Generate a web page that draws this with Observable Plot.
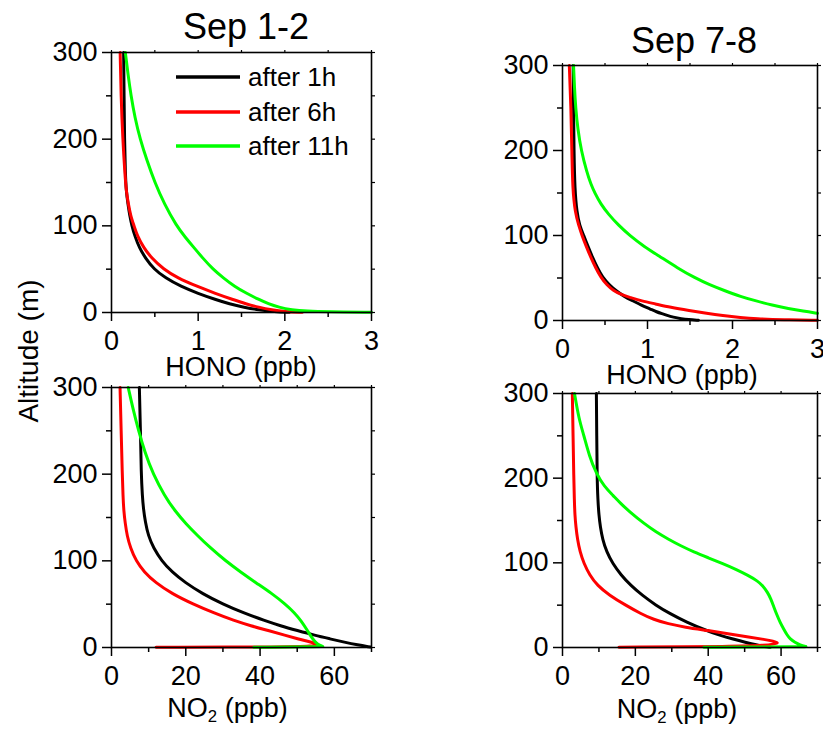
<!DOCTYPE html>
<html>
<head>
<meta charset="utf-8">
<script src="https://cdn.jsdelivr.net/npm/d3@7"></script>
<script src="https://cdn.jsdelivr.net/npm/@observablehq/plot@0.6"></script>
<style>
  html, body { margin: 0; padding: 0; background: #fff; }
  #root { position: relative; width: 823px; height: 729px; overflow: hidden; font-family: "Liberation Sans", Arial, sans-serif; color: #000; }
  .abs { position: absolute; white-space: nowrap; }
  .ctr { transform: translateX(-50%); }
  .legrow { position: absolute; left: 0; height: 34px; display: flex; align-items: center; font-size: 26px; line-height: 34px; white-space: nowrap; }
  .legrow svg { margin-right: 8px; flex: none; }
  sub { font-size: 0.62em; vertical-align: -0.3em; line-height: 0; }
</style>
</head>
<body>
<div id="root"></div>
<script>
// ---------------- data: [value, altitude (m)] ----------------
const seriesNames = ["after 1h", "after 6h", "after 11h"];
const seriesColors = ["#000000", "#ff0000", "#00ff00"];
const panelTitles = ["Sep 1-2", "Sep 7-8"];
const honoTicks = [0, 1, 2, 3];
const honoMinor = [0.5, 1.5, 2.5];
const no2Ticks = [0, 20, 40, 60];
const no2Minor = [10, 30, 50, 70];
const altTicks = [0, 100, 200, 300];
const altMinor = [50, 150, 250];

// HONO (ppb), Sep 1-2
const hono12_1h = [[0.14,300],[0.145,250],[0.15,200],[0.16,160],[0.17,140],[0.19,125],[0.21,112],[0.235,100],[0.27,88],[0.32,75],[0.39,63],[0.49,50],[0.62,40],[0.80,30],[1.00,22],[1.20,15],[1.36,10],[1.53,6],[1.70,3],[1.88,1],[2.05,0.2]];
const hono12_6h = [[0.10,300],[0.11,250],[0.13,200],[0.155,160],[0.17,140],[0.195,125],[0.22,112],[0.26,100],[0.30,88],[0.37,75],[0.46,63],[0.60,50],[0.76,40],[0.99,30],[1.20,22],[1.40,15],[1.55,10],[1.70,6],[1.85,3],[2.0,1],[2.2,0.2]];
const hono12_11h = [[0.16,300],[0.19,275],[0.225,250],[0.27,225],[0.33,200],[0.41,175],[0.50,150],[0.61,125],[0.75,100],[0.85,87],[0.95,75],[1.06,62],[1.17,50],[1.29,40],[1.42,30],[1.56,22],[1.70,15],[1.81,10],[1.93,6],[2.08,3],[2.25,1.5],[2.5,0.8],[3.0,0.3]];

// HONO (ppb), Sep 7-8
const hono78_1h = [[0.125,300],[0.13,250],[0.135,200],[0.145,153],[0.17,127],[0.20,112],[0.25,100],[0.30,87],[0.35,75],[0.41,62],[0.47,51],[0.55,42],[0.63,35],[0.73,28],[0.82,23.5],[0.93,18],[1.03,13.7],[1.11,10],[1.17,8],[1.23,6],[1.30,4],[1.40,2],[1.48,1],[1.6,0.3]];
const hono78_6h = [[0.08,300],[0.10,250],[0.11,200],[0.12,153],[0.15,127],[0.19,112],[0.23,100],[0.28,87],[0.33,75],[0.39,62],[0.45,51],[0.52,42],[0.60,35],[0.70,30],[0.80,27],[0.93,23],[1.09,19.6],[1.27,15.5],[1.49,11.8],[1.70,8.5],[1.88,6],[2.1,3.5],[2.27,2],[2.6,0.8],[3.0,0.3]];
const hono78_11h = [[0.13,300],[0.14,275],[0.155,250],[0.18,225],[0.22,200],[0.285,175],[0.335,160],[0.38,150],[0.45,137],[0.54,125],[0.66,112],[0.79,100],[0.96,87],[1.15,75],[1.35,62],[1.56,50],[1.73,42],[1.91,35],[2.10,28],[2.26,23.5],[2.47,18],[2.66,14],[2.83,11],[3.0,8.5]];

// NO2 (ppb), Sep 1-2
const no2_12_1h = [[7.5,300],[7.8,250],[8.0,200],[8.3,175],[8.6,160],[9.1,145],[9.9,129],[11.3,115],[13.5,100],[16.3,87],[19.8,75],[24.5,62],[30.0,50],[35.5,40],[41.2,31],[45.5,25],[50.0,19.6],[54.8,14],[58.8,10],[62.8,6],[66.2,3],[69.7,0.5]];
const no2_12_6h = [[2.3,300],[2.6,250],[2.9,200],[3.1,175],[3.3,158],[3.7,143],[4.2,129],[5.1,115],[6.6,100],[8.8,87],[11.8,75],[16.3,62],[22.0,50],[27.5,40],[33.0,31],[37.5,25],[42.2,19.6],[46.8,14],[50.2,10],[53.0,7],[54.6,5],[55.4,3],[55.4,3],[54.0,1.5],[48.0,0.6],[12.0,0.3]];
const no2_12_11h = [[4.5,300],[5.8,275],[7.3,250],[9.0,225],[11.2,200],[14.3,175],[17.0,158],[20.0,143],[23.2,129],[26.6,115],[30.7,100],[34.8,87],[38.8,75],[43.3,62],[46.8,50],[49.3,40],[51.0,31],[52.7,20],[54.1,10],[55.2,5],[56.0,2.5],[57.0,1],[57.0,1],[38.3,0.3]];

// NO2 (ppb), Sep 7-8
const no2_78_1h = [[9.3,300],[9.4,250],[9.5,200],[9.7,175],[10.0,156],[10.4,142],[11.0,128],[12.1,113],[13.8,99],[16.0,86],[18.8,73],[21.8,62],[25.6,50],[29.5,40],[34.0,30],[39.5,20],[43.5,14],[46.8,10],[50.2,6],[53.3,3],[55.5,1],[57.0,0.3]];
const no2_78_6h = [[2.7,300],[2.9,250],[3.1,200],[3.25,175],[3.4,156],[3.7,142],[4.1,128],[4.8,113],[5.9,99],[7.4,86],[9.6,73],[12.8,62],[17.3,50],[21.5,40],[25.0,33],[29.0,28],[33.5,24],[40.0,20],[46.0,16],[51.2,12.2],[55.5,9.5],[58.0,7.5],[59.0,5.5],[59.0,5.5],[58.0,4],[55.5,2.5],[48.0,1.2],[15.5,0.3]];
const no2_78_11h = [[3.3,300],[4.5,270],[5.9,250],[7.3,227],[9.3,205],[11.5,190],[13.8,180],[16.0,170],[18.5,160],[22.5,146],[25.5,137],[29.0,128],[32.5,120],[36.0,113],[40.0,106],[44.0,99],[47.8,92],[51.0,85],[53.4,79],[55.0,73],[56.3,65],[57.2,57.5],[58.0,48],[58.9,38],[59.7,30],[60.7,22],[61.6,15],[62.5,10],[63.8,6],[65.2,3],[67.0,1],[67.0,1],[38.8,0.3]];

// ---------------- drawing ----------------
const FONT = '"Liberation Sans", Arial, sans-serif';
const root = document.getElementById("root");

function panel(cfg) {
  const {series, xDomain, xMajor, xMinor, left, top, width, height, mt, mr, mb, ml} = cfg;
  const allX = [...xMajor, ...xMinor];
  const allY = [...altTicks, ...altMinor];
  const lines = series.map((arr, i) => Plot.line(arr, {
    x: d => d[0], y: d => d[1], stroke: seriesColors[i], strokeWidth: 3,
    curve: "basis", strokeLinejoin: "round"
  }));
  const svg = Plot.plot({
    width, height,
    marginTop: mt, marginRight: mr, marginBottom: mb, marginLeft: ml,
    x: {domain: xDomain},
    y: {domain: [0, 300]},
    style: {fontSize: "27px", fontFamily: FONT, background: "transparent", overflow: "visible", color: "#000"},
    marks: [
      ...lines,
      Plot.frame({stroke: "#000", strokeWidth: 1.6}),
      Plot.axisX({ticks: xMajor, tickSize: 9, tickPadding: 9, tickFormat: d => String(d), label: null, strokeWidth: 1.5}),
      Plot.axisX({ticks: xMinor, tickSize: 5, tickFormat: () => "", label: null, strokeWidth: 1.5}),
      Plot.axisX({anchor: "top", ticks: allX, tickSize: 3, tickFormat: () => "", label: null, strokeWidth: 1.2}),
      Plot.axisY({ticks: altTicks, tickSize: 9, tickPadding: 5, tickFormat: d => String(d), label: null, strokeWidth: 1.5}),
      Plot.axisY({ticks: altMinor, tickSize: 5, tickFormat: () => "", label: null, strokeWidth: 1.5}),
      Plot.axisY({anchor: "right", ticks: allY, tickSize: 3, tickFormat: () => "", label: null, strokeWidth: 1.2})
    ]
  });
  svg.style.position = "absolute";
  svg.style.left = left + "px";
  svg.style.top = top + "px";
  svg.style.maxWidth = "none";
  root.appendChild(svg);
}

// top-left: HONO Sep 1-2
panel({series: [hono12_1h, hono12_6h, hono12_11h], xDomain: [0, 3], xMajor: honoTicks, xMinor: honoMinor,
  left: 0, top: 0, width: 379, height: 385, mt: 52, mr: 8, mb: 73, ml: 111});
// top-right: HONO Sep 7-8
panel({series: [hono78_1h, hono78_6h, hono78_11h], xDomain: [0, 3], xMajor: honoTicks, xMinor: honoMinor,
  left: 379, top: 0, width: 444, height: 389, mt: 65, mr: 6, mb: 69, ml: 183});
// bottom-left: NO2 Sep 1-2
panel({series: [no2_12_1h, no2_12_6h, no2_12_11h], xDomain: [0, 70], xMajor: no2Ticks, xMinor: no2Minor,
  left: 0, top: 385, width: 379, height: 344, mt: 2, mr: 8, mb: 82, ml: 111});
// bottom-right: NO2 Sep 7-8
panel({series: [no2_78_1h, no2_78_6h, no2_78_11h], xDomain: [0, 70], xMajor: no2Ticks, xMinor: no2Minor,
  left: 379, top: 389, width: 444, height: 340, mt: 4, mr: 6, mb: 82, ml: 183});

// ---------------- text ----------------
function addText(html, x, baseline, size) {
  const d = document.createElement("div");
  d.className = "abs ctr";
  d.style.fontSize = size + "px";
  d.style.lineHeight = size + "px";
  d.style.left = x + "px";
  d.style.top = (baseline - 0.8465 * size) + "px";
  d.innerHTML = html;
  root.appendChild(d);
  return d;
}
addText(panelTitles[0], 246, 39, 36);
addText(panelTitles[1], 694, 53, 36);
addText("HONO (ppb)", 241, 377, 27);
addText("HONO (ppb)", 682, 385, 27);
addText("NO<sub>2</sub> (ppb)", 227.5, 718, 27);
addText("NO<sub>2</sub> (ppb)", 677, 719, 27);

// y-axis title (rotated)
const yt = document.createElement("div");
yt.className = "abs";
yt.textContent = "Altitude (m)";
Object.assign(yt.style, {fontSize: "28px", lineHeight: "28px", left: "29px", top: "351px",
  transform: "translate(-50%, -50%) rotate(-90deg)"});
root.appendChild(yt);

// legend (inside top-left panel)
const leg = document.createElement("div");
Object.assign(leg.style, {position: "absolute", left: "176px", top: "60px", width: "190px", height: "104px"});
seriesNames.forEach((name, i) => {
  const row = document.createElement("div");
  row.className = "legrow";
  row.style.top = (i * 34.5) + "px";
  row.innerHTML = `<svg width="64" height="6"><line x1="0" y1="3" x2="64" y2="3" stroke="${seriesColors[i]}" stroke-width="3.5"/></svg><span>${name}</span>`;
  leg.appendChild(row);
});
root.appendChild(leg);
</script>
</body>
</html>
